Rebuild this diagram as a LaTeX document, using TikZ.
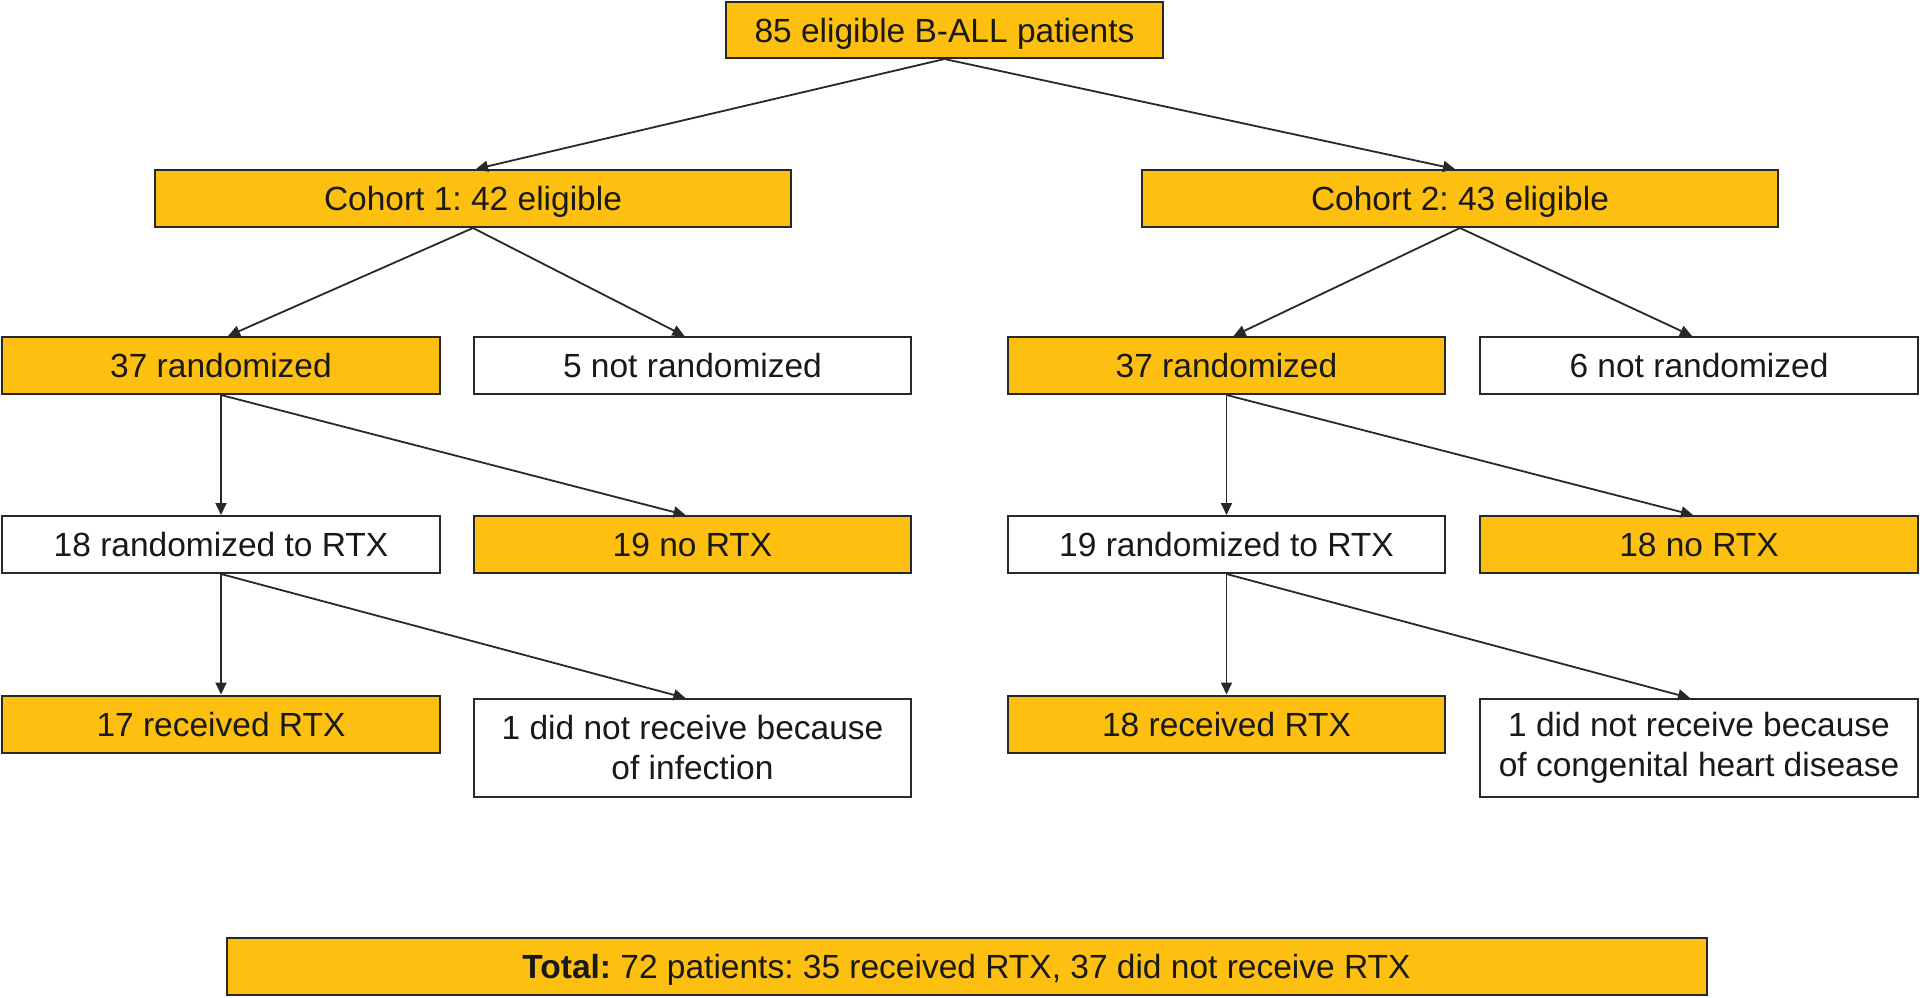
\documentclass[tikz,border=0pt]{standalone}
\usepackage{fontspec}
\setmainfont{Liberation Sans}
\usetikzlibrary{arrows.meta}
\definecolor{boxyellow}{RGB}{253,192,16}
\definecolor{edgegray}{RGB}{40,40,40}
\frenchspacing
\begin{document}
\begin{tikzpicture}[x=1pt,y=1pt,
  box/.style={draw=edgegray,line width=2pt,inner sep=0pt,minimum height=57pt,
    font=\fontsize{33.5}{40}\selectfont\frenchspacing,text=black!90,align=center},
  oneline/.style={text height=24pt,text depth=0pt},
  ybox/.style={box,oneline,fill=boxyellow},
  wbox/.style={box,oneline,fill=white},
  twobox/.style={box,fill=white,minimum height=98pt},
  arr/.style={draw=edgegray,line width=1.8pt,-{Triangle[length=12pt,width=11pt]}}]
\useasboundingbox[fill=white] (0,0) rectangle (1920,-997);
% row 0
\node[ybox,minimum width=437pt,minimum height=56pt] (top) at (944.5,-30) {85 eligible B-ALL patients};
% row 1
\node[ybox,minimum width=636pt] (c1) at (473,-198.5) {Cohort 1: 42 eligible};
\node[ybox,minimum width=636pt] (c2) at (1460,-198.5) {Cohort 2: 43 eligible};
% row 2
\node[ybox,minimum width=438pt] (r1) at (221,-365.5) {37 randomized};
\node[wbox,minimum width=437pt] (n1) at (692.5,-365.5) {5 not randomized};
\node[ybox,minimum width=437pt] (r2) at (1226.5,-365.5) {37 randomized};
\node[wbox,minimum width=438pt] (n2) at (1699,-365.5) {6 not randomized};
% row 3
\node[wbox,minimum width=438pt] (t1) at (221,-544.5) {18 randomized to RTX};
\node[ybox,minimum width=437pt] (x1) at (692.5,-544.5) {19 no RTX};
\node[wbox,minimum width=437pt] (t2) at (1226.5,-544.5) {19 randomized to RTX};
\node[ybox,minimum width=438pt] (x2) at (1699,-544.5) {18 no RTX};
% row 4
\node[ybox,minimum width=438pt] (g1) at (221,-724) {17 received RTX};
\node[twobox,minimum width=437pt] (d1) at (692.5,-748) {1 did not receive because\\of infection};
\node[ybox,minimum width=437pt] (g2) at (1226.5,-724) {18 received RTX};
\node[twobox,minimum width=438pt] (d2) at (1699,-748) {1 did not receive because\\of congenital heart disease};
% total
\node[ybox,minimum width=1480pt] (tot) at (966.5,-966.5) {\textbf{Total:} 72 patients: 35 received RTX, 37 did not receive RTX};
% connectors
\draw[arr] (top.south) -- ([xshift=3pt]c1.north);
\draw[arr] (top.south) -- ([xshift=-5pt]c2.north);
\draw[arr] (c1.south) -- ([xshift=7pt]r1.north);
\draw[arr] (c1.south) -- ([xshift=-8pt]n1.north);
\draw[arr] (c2.south) -- ([xshift=7pt]r2.north);
\draw[arr] (c2.south) -- ([xshift=-7pt]n2.north);
\draw[arr] (r1.south) -- (t1.north);
\draw[arr] (r1.south) -- ([xshift=-7pt]x1.north);
\draw[arr] (r2.south) -- (t2.north);
\draw[arr] (r2.south) -- ([xshift=-6pt]x2.north);
\draw[arr] (t1.south) -- (g1.north);
\draw[arr] (t1.south) -- ([xshift=-7pt]d1.north);
\draw[arr] (t2.south) -- (g2.north);
\draw[arr] (t2.south) -- ([xshift=-9pt]d2.north);
\end{tikzpicture}
\end{document}
